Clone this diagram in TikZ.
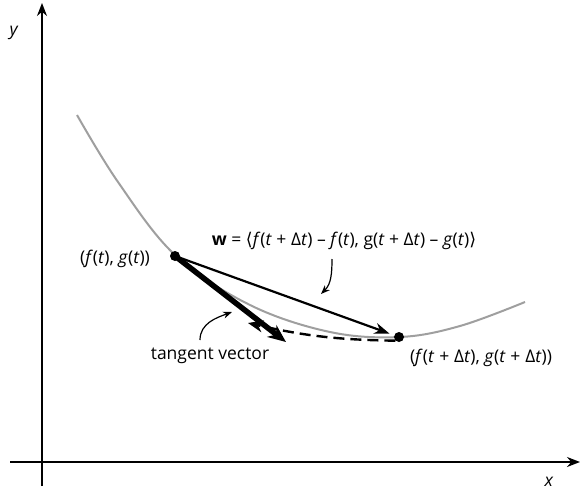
\documentclass[tikz,border=0pt]{standalone}
\usepackage{fontspec}
\setmainfont{Open Sans}
\newfontfamily\symfont{DejaVu Sans}
\usetikzlibrary{positioning, arrows.meta}

\begin{document}
\begin{tikzpicture}[
	x=1pt, y=-1pt,
	font=\fontsize{17.5}{21}\selectfont,
	% Define styles
	axis/.style={-{Stealth[length=13pt, width=10pt]}, line width=1.5pt},
	curve/.style={gray!75, line width=2pt},
	dot/.style={circle, fill=black, inner sep=0pt, minimum size=10pt},
	secant/.style={-{Stealth[length=15pt, width=11pt]}, line width=2.2pt},
	tangent/.style={-{Stealth[length=18pt, width=15pt]}, line width=5.5pt},
	dasharrow/.style={-{Stealth[length=15pt, width=12pt]}, line width=2.4pt, dash pattern=on 11pt off 6pt},
	pointer/.style={-{Stealth[length=9pt, width=7pt]}, line width=1.2pt},
	label/.style={inner sep=1pt}
	]
	\useasboundingbox (0,0) rectangle (583,495);
	
	% 1. Axes
	\coordinate (xend) at (580,462);
	\coordinate (yend) at (42,3);
	\draw[axis] (10,462) -- (xend);
	\draw[axis] (42,486) -- (yend);
	\node[label] (ylab) at (14,33) {\textit{y}};
	\node[label] (xlab) at (549,482) {\textit{x}};
	
	% 2. Curve
	\draw[curve] plot[smooth, tension=0.6] coordinates {(77,115) (118,182) (175,255) (250,305) (330,332) (400,337) (460,326) (525,302)};
	
	% 3. Points
	\node[dot] (p) at (175,256) {};
	\node[dot] (q) at (399,337) {};
	
	% Vectors
	\coordinate (tipT) at (286,342);
	\coordinate (tipD) at (248,323);
	\draw[tangent] (p.center) -- (tipT);
	\draw[secant, shorten >=5pt] (p.center) -- (q);
	\draw[dasharrow] (q.south west) to[bend left=6] (tipD);
	
	% 4. Labels
	\node[label] (plab) at (115,259) {(\textit{f}(\textit{t}), \textit{g}(\textit{t}))};
	\node[label] (qlab) at (481,358) {(\textit{f}(\textit{t}\;+\;Δ\textit{t}), \textit{g}(\textit{t}\;+\;Δ\textit{t}))};
	\node[label] (wlab) at (344,241) {\textbf{w} = {\symfont ⟨}\textit{f}(\textit{t} + Δ\textit{t}) – \textit{f}(\textit{t}), g(\textit{t} + Δ\textit{t}) – \textit{g}(\textit{t}){\symfont ⟩}};
	\node[label] (tlab) at (210,356) {tangent vector};
	
	% Pointer arrows
	\coordinate (wend) at (321,294);
	\coordinate (tend) at (232,312);
	\draw[pointer] (332,259) to[out=-90, in=45] (wend);
	\draw[pointer] (200,340) to[out=90, in=-160] (tend);
\end{tikzpicture}
\end{document}
